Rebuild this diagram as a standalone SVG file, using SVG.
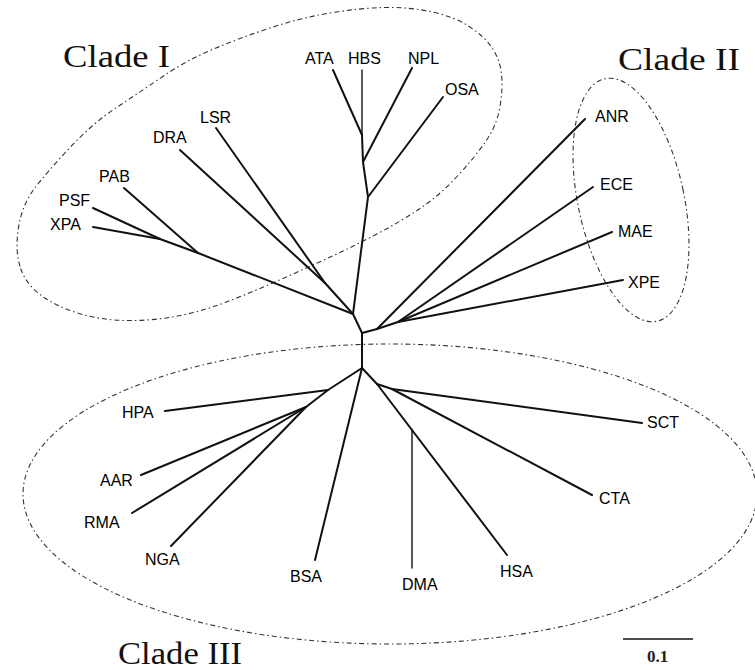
<svg xmlns="http://www.w3.org/2000/svg" width="755" height="670" viewBox="0 0 755 670">
<style>
.bg{fill:#fff}
.br{fill:none;stroke:#111;stroke-width:2;stroke-linecap:round;stroke-linejoin:round}
.thin{stroke-width:1.4}
.lab{font-family:"Liberation Sans",Arial,sans-serif;font-size:16px;fill:#000}
.clade{font-family:"Liberation Serif","Times New Roman",serif;font-size:32px;fill:#111}
.env{fill:none;stroke:#333;stroke-width:1.1;stroke-dasharray:5 3 1.5 3}
.sc{font-family:"Liberation Serif","Times New Roman",serif;font-size:17px;font-weight:bold;fill:#222}
</style>
<rect class="bg" x="0" y="0" width="755" height="670"/>

<g id="clade-I">
<path class="env" d="M20,266.5 Q15,250 18.5,227.5 Q22,205 34.5,188.5 Q47,172 70,147.5 Q93,123 116.5,107.5 Q140,92 163.5,76 Q187,60 213.5,49 Q240,38 270,28 Q300,18 330,13 Q360,8 385,7.5 Q410,7 432.5,12 Q455,17 470,27 Q485,37 492.5,48.5 Q500,60 501.5,74 Q503,88 500,106.5 Q497,125 486,141 Q475,157 457.5,176 Q440,195 420,208.5 Q400,222 375,235 Q350,248 325,259.5 Q300,271 275,282 Q250,293 225,302.5 Q200,312 175,316.5 Q150,321 125,320.5 Q100,320 77.5,313 Q55,306 40,294.5 Q25,283 20,266.5 Z"/>
<text class="clade" x="63" y="67" textLength="107" lengthAdjust="spacingAndGlyphs">Clade I</text>
</g>

<g id="clade-II">
<ellipse class="env" cx="631" cy="200" rx="53" ry="124" transform="rotate(-12.1 631 200)"/>
<text class="clade" x="618" y="70" textLength="122" lengthAdjust="spacingAndGlyphs">Clade II</text>
</g>

<g id="clade-III">
<ellipse class="env" cx="390" cy="494" rx="367" ry="150"/>
<text class="clade" x="118" y="664" textLength="124" lengthAdjust="spacingAndGlyphs">Clade III</text>
</g>

<g id="branches">
<polyline class="br" points="353,314 362,333 362,368"/>
<line class="br" x1="353" y1="314" x2="198" y2="253"/>
<line class="br" x1="198" y1="253" x2="124" y2="188"/>
<line class="br" x1="198" y1="253" x2="160" y2="239"/>
<line class="br" x1="160" y1="239" x2="93" y2="208"/>
<line class="br" x1="160" y1="239" x2="93" y2="227"/>
<line class="br" x1="353" y1="314" x2="325" y2="283"/>
<line class="br" x1="325" y1="283" x2="180" y2="150"/>
<line class="br" x1="325" y1="283" x2="216" y2="128"/>
<polyline class="br" points="353,314 368,197 363,162 362,135"/>
<line class="br" x1="368" y1="197" x2="443" y2="97"/>
<line class="br" x1="363" y1="162" x2="412" y2="68"/>
<line class="br" x1="362" y1="135" x2="333" y2="70"/>
<line class="br thin" x1="362" y1="135" x2="362" y2="70"/>
<line class="br" x1="362" y1="333" x2="377" y2="329"/>
<line class="br" x1="377" y1="329" x2="585" y2="119"/>
<line class="br" x1="377" y1="329" x2="398" y2="322"/>
<line class="br" x1="398" y1="322" x2="593" y2="187"/>
<line class="br" x1="398" y1="322" x2="612" y2="232"/>
<line class="br" x1="398" y1="322" x2="623" y2="280"/>
<line class="br" x1="362" y1="368" x2="328" y2="390"/>
<line class="br" x1="328" y1="390" x2="165" y2="411"/>
<line class="br" x1="328" y1="390" x2="306" y2="407"/>
<line class="br" x1="306" y1="407" x2="141" y2="475"/>
<line class="br" x1="306" y1="407" x2="132" y2="513"/>
<line class="br" x1="306" y1="407" x2="171" y2="546"/>
<line class="br" x1="362" y1="368" x2="315" y2="560"/>
<line class="br" x1="362" y1="368" x2="377" y2="384"/>
<line class="br" x1="377" y1="384" x2="507" y2="555"/>
<line class="br thin" x1="412" y1="430" x2="412" y2="568"/>
<line class="br" x1="377" y1="384" x2="392" y2="389"/>
<line class="br" x1="392" y1="389" x2="642" y2="423"/>
<line class="br" x1="392" y1="389" x2="592" y2="495"/>
</g>

<g id="ATA"><text class="lab" x="305" y="64">ATA</text></g>
<g id="HBS"><text class="lab" x="348" y="64">HBS</text></g>
<g id="NPL"><text class="lab" x="408" y="64">NPL</text></g>
<g id="OSA"><text class="lab" x="445" y="95">OSA</text></g>
<g id="LSR"><text class="lab" x="200" y="123">LSR</text></g>
<g id="DRA"><text class="lab" x="153" y="143">DRA</text></g>
<g id="PAB"><text class="lab" x="99" y="182">PAB</text></g>
<g id="PSF"><text class="lab" x="59" y="206">PSF</text></g>
<g id="XPA"><text class="lab" x="50" y="230">XPA</text></g>
<g id="ANR"><text class="lab" x="595" y="122">ANR</text></g>
<g id="ECE"><text class="lab" x="600" y="190">ECE</text></g>
<g id="MAE"><text class="lab" x="618" y="237">MAE</text></g>
<g id="XPE"><text class="lab" x="628" y="288">XPE</text></g>
<g id="HPA"><text class="lab" x="122" y="418">HPA</text></g>
<g id="AAR"><text class="lab" x="100" y="486">AAR</text></g>
<g id="RMA"><text class="lab" x="84" y="528">RMA</text></g>
<g id="NGA"><text class="lab" x="145" y="565">NGA</text></g>
<g id="BSA"><text class="lab" x="290" y="582">BSA</text></g>
<g id="DMA"><text class="lab" x="402" y="590">DMA</text></g>
<g id="HSA"><text class="lab" x="500" y="577">HSA</text></g>
<g id="CTA"><text class="lab" x="599" y="504">CTA</text></g>
<g id="SCT"><text class="lab" x="647" y="428">SCT</text></g>

<g id="scale-bar">
<line x1="623" y1="639" x2="693" y2="639" stroke="#111" stroke-width="1.6"/>
<text class="sc" x="647" y="662">0.1</text>
</g>
</svg>
